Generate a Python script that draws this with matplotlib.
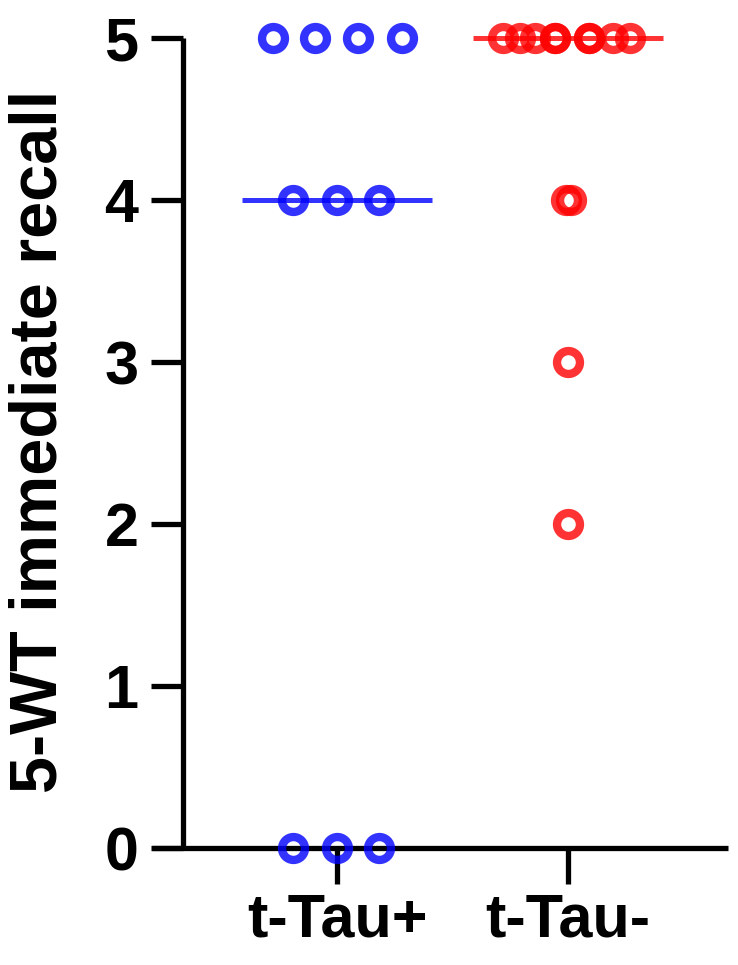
import matplotlib
matplotlib.use("Agg")
import matplotlib.pyplot as plt
import numpy as np

plt.rcParams['font.family'] = ['Liberation Sans', 'DejaVu Sans']
plt.rcParams['font.weight'] = 'bold'

groups = ["t-Tau+", "t-Tau-"]

# recall scores per subject
tau_pos = [5, 5, 5, 5, 4, 4, 4, 0, 0, 0]
tau_neg = [5, 5, 5, 5, 5, 5, 5, 5, 5, 4, 4, 3, 2]

# horizontal spread of the points inside each column (scatter layout)
spread_pos = [-0.277, -0.095, 0.091, 0.281, -0.19, 0.0, 0.182, -0.19, 0.0, 0.182]
spread_neg = [-0.281, -0.208, -0.143, -0.056, -0.056, 0.091, 0.091, 0.195, 0.268,
              -0.009, 0.013, 0.0, 0.0]

colors = ["#0000ff", "#ff0000"]

fig = plt.figure(figsize=(7.38, 9.65), dpi=100)
ax = fig.add_axes([0.206, 0.1212, 0.7805, 0.8394])

for i, (vals, spread, c) in enumerate(zip([tau_pos, tau_neg], [spread_pos, spread_neg], colors)):
    xpos = i + 1
    med = np.median(vals)
    ax.plot([xpos - 0.41, xpos + 0.41], [med, med], color=c, lw=3.6, alpha=0.8,
            solid_capstyle='butt', clip_on=False, zorder=3)
    ax.plot(xpos + np.array(spread), vals, linestyle='none', marker='o', ms=16.5,
            mfc='none', mec=c, mew=6, alpha=0.8, clip_on=False, zorder=4)

ax.set_xlim(0.199, 2.693)
ax.set_ylim(0, 5)
ax.spines['top'].set_visible(False)
ax.spines['right'].set_visible(False)
ax.spines['left'].set_position(('data', 0.333))
for s in ['left', 'bottom']:
    ax.spines[s].set_linewidth(3.8)
    ax.spines[s].set_capstyle('butt')

ax.set_yticks([0, 1, 2, 3, 4, 5])
ax.set_xticks([1, 2])
ax.set_xticklabels(groups)
ax.tick_params(axis='y', length=23, width=3.8, pad=9, labelsize=44)
ax.tick_params(axis='x', length=26, width=3.8, pad=6, labelsize=44)
for lab in ax.get_xticklabels() + ax.get_yticklabels():
    lab.set_fontweight('bold')

fig.text(0.054, 0.543, "5-WT immediate recall", rotation=90, ha='center', va='center',
         fontsize=48, fontweight='bold')

fig.savefig("out.png", dpi=100)
